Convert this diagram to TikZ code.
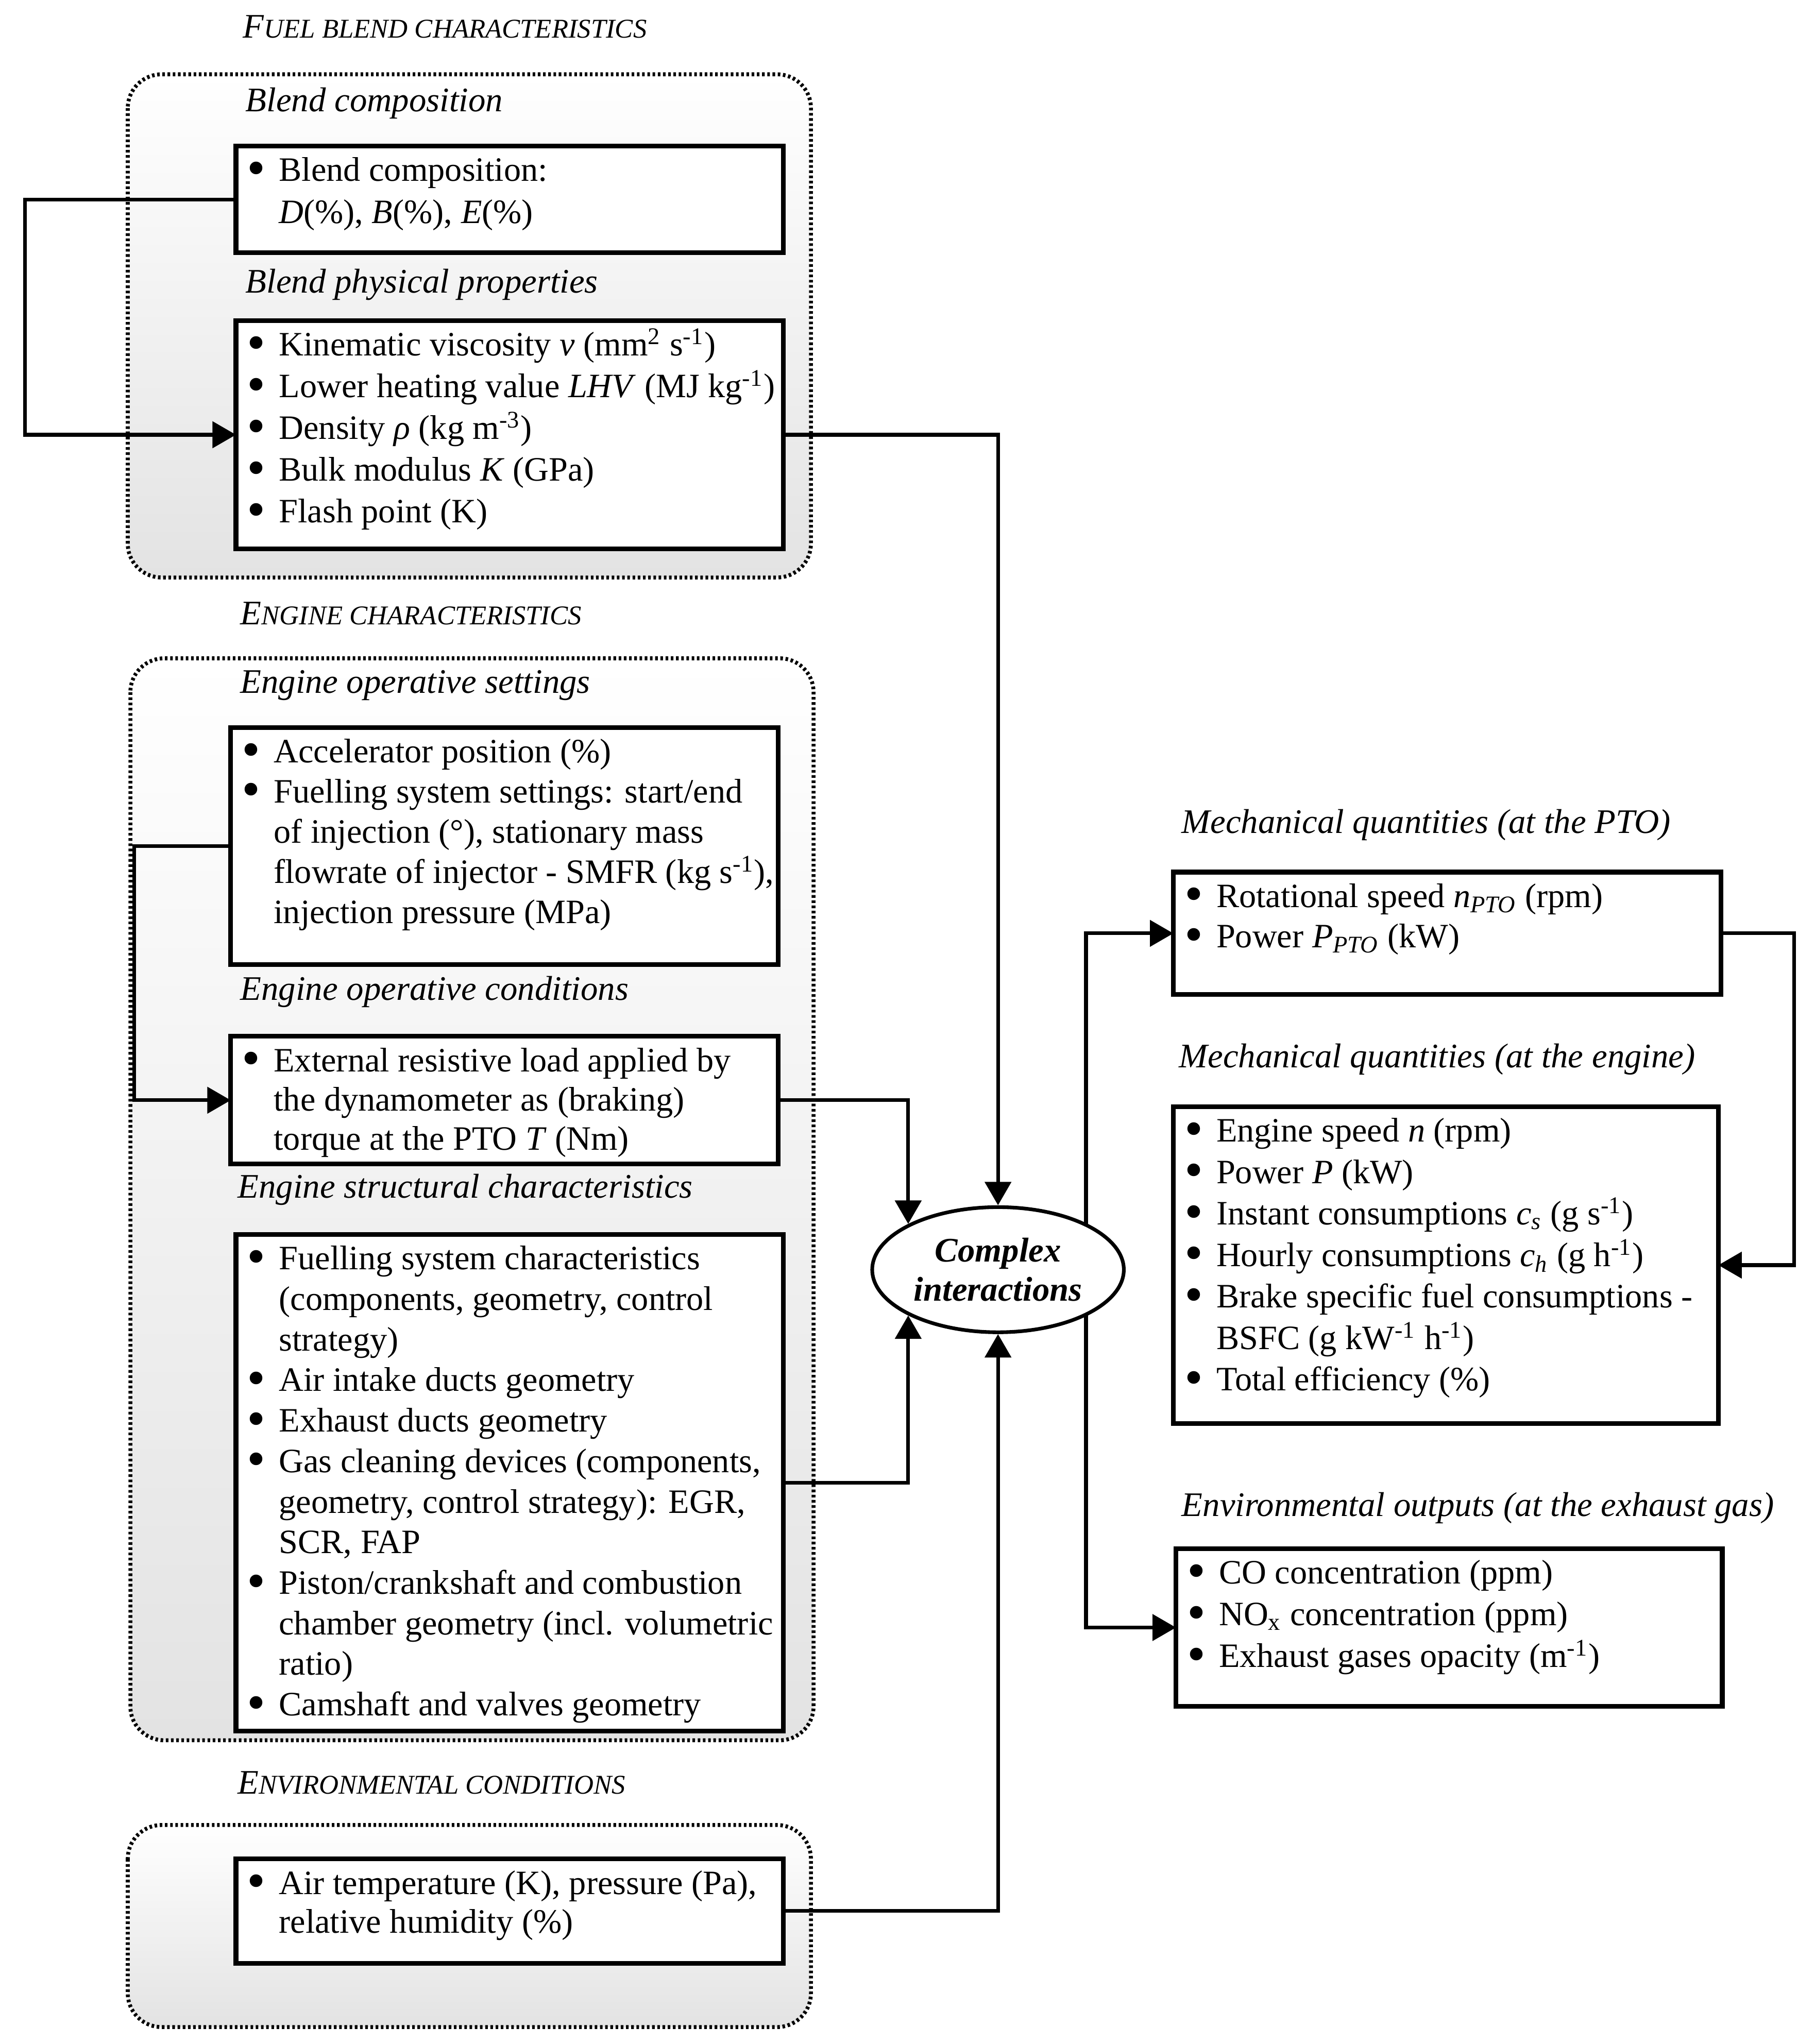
\documentclass[tikz,border=0pt]{standalone}
\usepackage{fontspec}
\setmainfont{Liberation Serif}
\usetikzlibrary{arrows.meta,shapes.geometric,calc}
\newcommand\fsc[2]{#1{\fontsize{10.4pt}{12pt}\selectfont #2}}
\newcommand\bul{\smash{\raisebox{-0.13em}{\scalebox{1.55}{\textbullet}}}}
\newcommand\bx[4]{{\fontsize{13.1pt}{#3}\selectfont\parbox[c][#1][t]{#2}{\vspace*{\dimexpr13.5pt-0.7\baselineskip\relax}\hspace*{4.3pt}\begin{tabular}[t]{@{}p{12.2pt}@{}l@{}}#4\end{tabular}}}}
\begin{document}
\begin{tikzpicture}[x=0.5pt,y=-0.5pt,
  grp/.style={line width=1.5pt,dash pattern=on 1pt off 1pt,rounded corners=13pt,
    top color=white,middle color=white!97!black,bottom color=black!11},
  box/.style={draw,line width=1.8pt,fill=white,inner sep=0pt,outer sep=0pt,anchor=north west},
  lab/.style={anchor=base west,inner sep=0pt,font=\fontsize{13.2pt}{15pt}\selectfont\itshape},
  arr/.style={line width=1.4pt,-{Triangle[length=9pt,width=10pt]}},
  ln/.style={line width=1.4pt}]
\useasboundingbox (0,0) rectangle (1392,1568);
% groups
\draw[grp] (98,57) rectangle (622,443);
\draw[grp] (100,505) rectangle (624,1335);
\draw[grp] (98,1400) rectangle (622,1555);
% labels
\node[lab] (t1) at (186,29) {\fsc{F}{UEL BLEND CHARACTERISTICS}};
\node[lab] (l1) at (188,85.5) {Blend composition};
\node[lab] (l2) at (188,224.6) {Blend physical properties};
\node[lab] (t2) at (184,479) {\fsc{E}{NGINE CHARACTERISTICS}};
\node[lab] (l3) at (184,531.6) {Engine operative settings};
\node[lab] (l4) at (184,767.3) {Engine operative conditions};
\node[lab] (l5) at (182,919) {Engine structural characteristics};
\node[lab] (t3) at (182,1376) {\fsc{E}{NVIRONMENTAL CONDITIONS}};
\node[lab] (r1) at (906,639) {Mechanical quantities (at the PTO)};
\node[lab] (r2) at (904,819) {Mechanical quantities (at the engine)};
\node[lab] (r3) at (906,1163) {Environmental outputs (at the exhaust gas)};
% boxes
\node[box] (b1) at (181,112) {\bx{41pt}{210pt}{16.2pt}{%
\bul & Blend composition:\\
 & \textit{D}(\%), \textit{B}(\%), \textit{E}(\%)}};
\node[box] (b2) at (181,246) {\bx{87.5pt}{210pt}{16pt}{%
\bul & Kinematic viscosity \textit{v} (mm\textsuperscript{2} s\textsuperscript{-1})\\
\bul & Lower heating value \textit{LHV} (MJ kg\textsuperscript{-1})\\
\bul & Density \textit{ρ} (kg m\textsuperscript{-3})\\
\bul & Bulk modulus \textit{K} (GPa)\\
\bul & Flash point (K)}};
\node[box] (b3) at (177,558) {\bx{91pt}{210pt}{15.4pt}{%
\bul & Accelerator position (\%)\\
\bul & Fuelling system settings: start/end\\
 & of injection (°), stationary mass\\
 & flowrate of injector - SMFR (kg s\textsuperscript{-1}),\\
 & injection pressure (MPa)}};
\node[box] (b4) at (177,795) {\bx{49pt}{210pt}{15pt}{%
\bul & External resistive load applied by\\
 & the dynamometer as (braking)\\
 & torque at the PTO \textit{T} (Nm)}};
\node[box] (b5) at (181,947) {\bx{190.5pt}{210pt}{15.55pt}{%
\bul & Fuelling system characteristics\\
 & (components, geometry, control\\
 & strategy)\\
\bul & Air intake ducts geometry\\
\bul & Exhaust ducts geometry\\
\bul & Gas cleaning devices (components,\\
 & geometry, control strategy): EGR,\\
 & SCR, FAP\\
\bul & Piston/crankshaft and combustion\\
 & chamber geometry (incl. volumetric\\
 & ratio)\\
\bul & Camshaft and valves geometry}};
\node[box] (b6) at (181,1426) {\bx{40pt}{210pt}{15pt}{%
\bul & Air temperature (K), pressure (Pa),\\
 & relative humidity (\%)}};
\node[box] (pto) at (900,669) {\bx{47pt}{210pt}{15.5pt}{%
\bul & Rotational speed \textit{n}\textsubscript{\textit{PTO}} (rpm)\\
\bul & Power \textit{P}\textsubscript{\textit{PTO}} (kW)}};
\node[box] (eng) at (900,849) {\bx{121.5pt}{209pt}{15.9pt}{%
\bul & Engine speed \textit{n} (rpm)\\
\bul & Power \textit{P} (kW)\\
\bul & Instant consumptions \textit{c}\textsubscript{\textit{s}} (g s\textsuperscript{-1})\\
\bul & Hourly consumptions \textit{c}\textsubscript{\textit{h}} (g h\textsuperscript{-1})\\
\bul & Brake specific fuel consumptions -\\
 & BSFC (g kW\textsuperscript{-1} h\textsuperscript{-1})\\
\bul & Total efficiency (\%)}};
\node[box] (eo) at (902,1188) {\bx{60.5pt}{209.5pt}{16pt}{%
\bul & CO concentration (ppm)\\
\bul & NO\textsubscript{x} concentration (ppm)\\
\bul & Exhaust gases opacity (m\textsuperscript{-1})}};
% split from the central node
\coordinate (sp) at (833,974);
\draw[arr] (sp) |- (pto.west);
\draw[arr] (sp) |- (eo.west);
% central ellipse
\node[ellipse,draw,line width=1.4pt,fill=white,inner sep=0pt,minimum width=96.5pt,minimum height=48pt,
  align=center,font=\fontsize{13.2pt}{15pt}\selectfont\bfseries\itshape] (ci) at (765.5,974) {Complex\\interactions};
% connectors
\draw[arr] (b1.west) -- ++(-162,0) |- (b2.west);
\draw[arr] (b3.west) -- ++(-74,0) |- (b4.west);
\draw[arr] (b2.east) -| (ci.north);
\draw[arr] (b4.east) -| (ci.153);
\draw[arr] (b5.east) -| (ci.207);
\draw[arr] (b6.east) -| (ci.south);
\draw[arr] (pto.east) -- ++(56,0) |- (eng.east);
\end{tikzpicture}
\end{document}
